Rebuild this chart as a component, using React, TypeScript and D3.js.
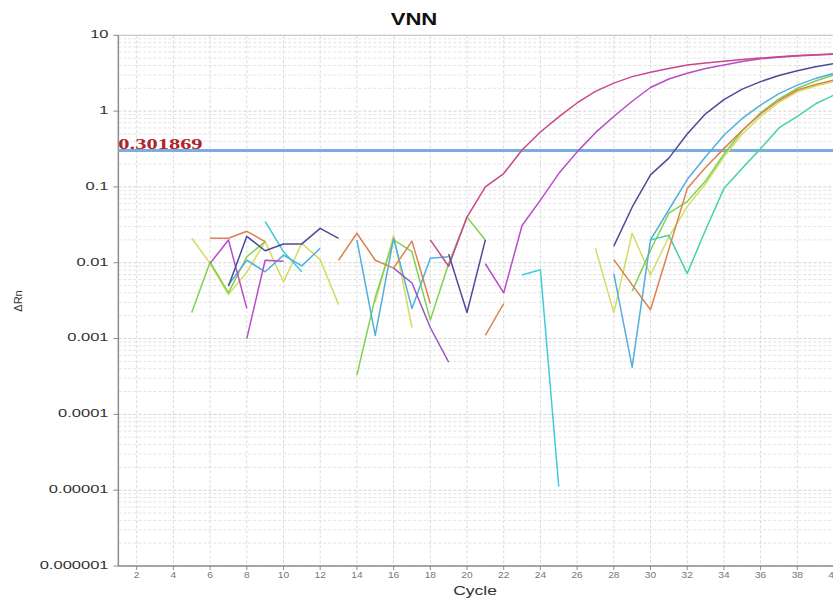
import React from 'react';
import * as d3 from 'd3';

const W = 833;
const H = 599;

// axis values
const yTickValues = [10, 1, 0.1, 0.01, 0.001, 0.0001, 0.00001, 0.000001];
const yTickLabels = ['10', '1', '0.1', '0.01', '0.001', '0.0001', '0.00001', '0.000001'];
const xTickValues = [2, 4, 6, 8, 10, 12, 14, 16, 18, 20, 22, 24, 26, 28, 30, 32, 34, 36, 38, 40];
const threshold = 0.301869;

// ΔRn per cycle, one array per visible run of a well (gaps = non-positive values)
const orangeA = [0.021, 0.021, 0.026, 0.019]; // from cycle 6
const orangeB = [0.0108, 0.0245, 0.0108, 0.0085, 0.0193, 0.0029]; // from 13
const orangeC = [0.0011, 0.0029]; // from 21
const orangeD = [0.011, 0.0051, 0.0024, 0.015, 0.095, 0.18, 0.32, 0.56, 0.92, 1.38, 1.9, 2.25, 2.57]; // from 28

const navyA = [0.0049, 0.0223, 0.0144, 0.0177, 0.0177, 0.0284, 0.021]; // from 7
const navyB = [0.013, 0.0022, 0.02]; // from 19
const navyC = [0.0166, 0.054, 0.144, 0.24, 0.5, 0.92, 1.42, 1.95, 2.45, 2.95, 3.4, 3.85, 4.25]; // from 28

const magentaA = [0.0098, 0.02, 0.0025]; // from 6
const magentaB = [0.001, 0.0108, 0.0105]; // from 8
const purpleA = [0.0085, 0.0054, 0.0014, 0.00049]; // from 16
const magentaC = [0.0097, 0.004, 0.031, 0.067, 0.15, 0.29, 0.52, 0.85, 1.35, 2.05, 2.65, 3.15, 3.65, 4.05, 4.5, 4.9, 5.15, 5.35, 5.5, 5.62]; // from 21

const pinkA = [0.02, 0.009, 0.04, 0.1, 0.15, 0.307, 0.53, 0.84, 1.28, 1.82, 2.34, 2.85, 3.25, 3.65, 4.05, 4.3, 4.55, 4.8, 5.0, 5.2, 5.4, 5.55, 5.66]; // from 18

const yellowA = [0.021, 0.0098, 0.0038, 0.0075, 0.019, 0.0056, 0.018, 0.011, 0.0028]; // from 5
const yellowB = [0.003, 0.023, 0.0014]; // from 15
const yellowC = [0.0155, 0.0022, 0.0245, 0.0069, 0.022, 0.055, 0.11, 0.25, 0.5, 0.85, 1.3, 1.8, 2.15, 2.45]; // from 27

const greenA = [0.0022, 0.0102, 0.004, 0.012, 0.019]; // from 5
const greenB = [0.00033, 0.0035, 0.02, 0.014, 0.00175, 0.0098, 0.04, 0.02]; // from 14
const greenC = [0.0042, 0.0146, 0.045, 0.064, 0.12, 0.27, 0.55, 0.95, 1.45, 2.0, 2.5, 3.0]; // from 29

const tealA = [0.02, 0.023, 0.0072, 0.027, 0.095, 0.176, 0.32, 0.6, 0.85, 1.25, 1.63]; // from 30

const cyanA = [0.035, 0.014, 0.0076]; // from 9
const cyanB = [0.0069, 0.0081, 0.0000112]; // from 23

const blueA = [0.0051, 0.0108, 0.0076, 0.0126, 0.0091, 0.0155]; // from 7
const blueB = [0.02, 0.0011, 0.021, 0.0025, 0.0115, 0.012]; // from 14
const blueC = [0.0072, 0.00042, 0.02, 0.05, 0.125, 0.25, 0.48, 0.8, 1.2, 1.7, 2.2, 2.7, 3.15]; // from 28

const ORANGE = '#d9834f';
const NAVY = '#4b4b9b';
const MAGENTA = '#b84cc8';
const PURPLE = '#9a58c0';
const PINK = '#c8488a';
const YELLOW = '#d6dc60';
const GREEN = '#7ed24e';
const TEAL = '#46d2a6';
const CYAN = '#40ccd8';
const BLUE = '#52aede';

const segments: { start: number; values: number[]; color: string }[] = [
  { start: 5, values: yellowA, color: YELLOW },
  { start: 15, values: yellowB, color: YELLOW },
  { start: 27, values: yellowC, color: YELLOW },
  { start: 5, values: greenA, color: GREEN },
  { start: 14, values: greenB, color: GREEN },
  { start: 29, values: greenC, color: GREEN },
  { start: 30, values: tealA, color: TEAL },
  { start: 9, values: cyanA, color: CYAN },
  { start: 23, values: cyanB, color: CYAN },
  { start: 7, values: blueA, color: BLUE },
  { start: 14, values: blueB, color: BLUE },
  { start: 28, values: blueC, color: BLUE },
  { start: 6, values: orangeA, color: ORANGE },
  { start: 13, values: orangeB, color: ORANGE },
  { start: 21, values: orangeC, color: ORANGE },
  { start: 28, values: orangeD, color: ORANGE },
  { start: 6, values: magentaA, color: MAGENTA },
  { start: 8, values: magentaB, color: MAGENTA },
  { start: 16, values: purpleA, color: PURPLE },
  { start: 21, values: magentaC, color: MAGENTA },
  { start: 18, values: pinkA, color: PINK },
  { start: 7, values: navyA, color: NAVY },
  { start: 19, values: navyB, color: NAVY },
  { start: 28, values: navyC, color: NAVY },
];

const App = () => {
  const left = 118.35;
  const top = 35.3;
  const bottom = 566;

  const x = d3.scaleLinear().domain([1, 40]).range([left, 834]);
  const y = d3.scaleLog().domain([0.000001, 10]).range([bottom, top]);

  const line = d3
    .line<[number, number]>()
    .x(d => x(d[0]))
    .y(d => y(d[1]));

  const minorY = y.ticks().filter(v => !yTickValues.some(t => Math.abs(t - v) / t < 1e-9));
  const sans = 'Liberation Sans, Arial, sans-serif';

  return (
    <svg
      width={W}
      height={H}
      style={{ position: 'absolute', left: 0, top: 0, background: '#fff' }}
    >
      <defs>
        <clipPath id="plot">
          <rect x={left} y={top - 2} width={W - left} height={bottom - top + 2} />
        </clipPath>
      </defs>

      {/* grid */}
      {minorY.map((v, i) => (
        <line key={'my' + i} x1={left} x2={W} y1={y(v)} y2={y(v)} stroke="#e3e3e3" strokeDasharray="3,2" />
      ))}
      {yTickValues.map((v, i) => (
        <line key={'gy' + i} x1={left} x2={W} y1={y(v)} y2={y(v)} stroke="#d2d2d2" strokeDasharray="3,2" />
      ))}
      {xTickValues.map(v => (
        <line key={'gx' + v} x1={x(v)} x2={x(v)} y1={top} y2={bottom} stroke="#dadada" strokeDasharray="3,2" />
      ))}

      {/* frame */}
      <line x1={left} x2={W} y1={top} y2={top} stroke="#c4c4c4" />
      <line x1={left} x2={W} y1={bottom} y2={bottom} stroke="#8c8c8c" strokeWidth={1.5} />
      <line x1={left} x2={left} y1={top} y2={bottom} stroke="#8c8c8c" strokeWidth={1.5} />

      {/* y axis */}
      {yTickValues.map((v, i) => (
        <g key={'ty' + i}>
          <line x1={left - 5} x2={left} y1={y(v)} y2={y(v)} stroke="#8c8c8c" />
          <text
            transform={`translate(108.5, ${y(v)}) scale(1.5,1)`}
            textAnchor="end"
            dominantBaseline="middle"
            fontFamily={sans}
            fontSize={11}
            fill="#333"
          >
            {yTickLabels[i]}
          </text>
        </g>
      ))}

      {/* x axis */}
      {xTickValues.map(v => (
        <g key={'tx' + v}>
          <line x1={x(v)} x2={x(v)} y1={bottom} y2={bottom + 4} stroke="#8c8c8c" />
          <text
            transform={`translate(${x(v)}, ${bottom + 10}) scale(1.2,1)`}
            textAnchor="middle"
            dominantBaseline="middle"
            fontFamily={sans}
            fontSize={8.5}
            fill="#777"
          >
            {v}
          </text>
        </g>
      ))}

      {/* threshold */}
      <line x1={left} x2={W} y1={y(threshold)} y2={y(threshold)} stroke="#7aaee0" strokeWidth={3} />
      <text
        transform={`translate(${left}, ${y(threshold) - 2}) scale(1.55,1)`}
        fontFamily="Liberation Serif, Times New Roman, serif"
        fontWeight="bold"
        fontSize={14.5}
        fill="#b0242a"
      >
        {threshold}
      </text>

      {/* amplification curves */}
      <g clipPath="url(#plot)" fill="none" strokeWidth={1.5} strokeLinejoin="round">
        {segments.map((s, i) => (
          <path
            key={'s' + i}
            d={line(s.values.map((v, j) => [s.start + j, v] as [number, number])) || ''}
            stroke={s.color}
          />
        ))}
      </g>

      {/* titles */}
      <text
        transform={`translate(414, 25) scale(1.3,1)`}
        textAnchor="middle"
        fontFamily={sans}
        fontWeight="bold"
        fontSize={17}
        fill="#111"
      >
        VNN
      </text>
      <text
        transform={`translate(475, 595) scale(1.4,1)`}
        textAnchor="middle"
        fontFamily={sans}
        fontSize={12.5}
        fill="#333"
      >
        Cycle
      </text>
      <text
        transform={`translate(22, 301) rotate(-90)`}
        textAnchor="middle"
        fontFamily={sans}
        fontSize={11}
        fill="#333"
      >
        ΔRn
      </text>
    </svg>
  );
};

export default App;
